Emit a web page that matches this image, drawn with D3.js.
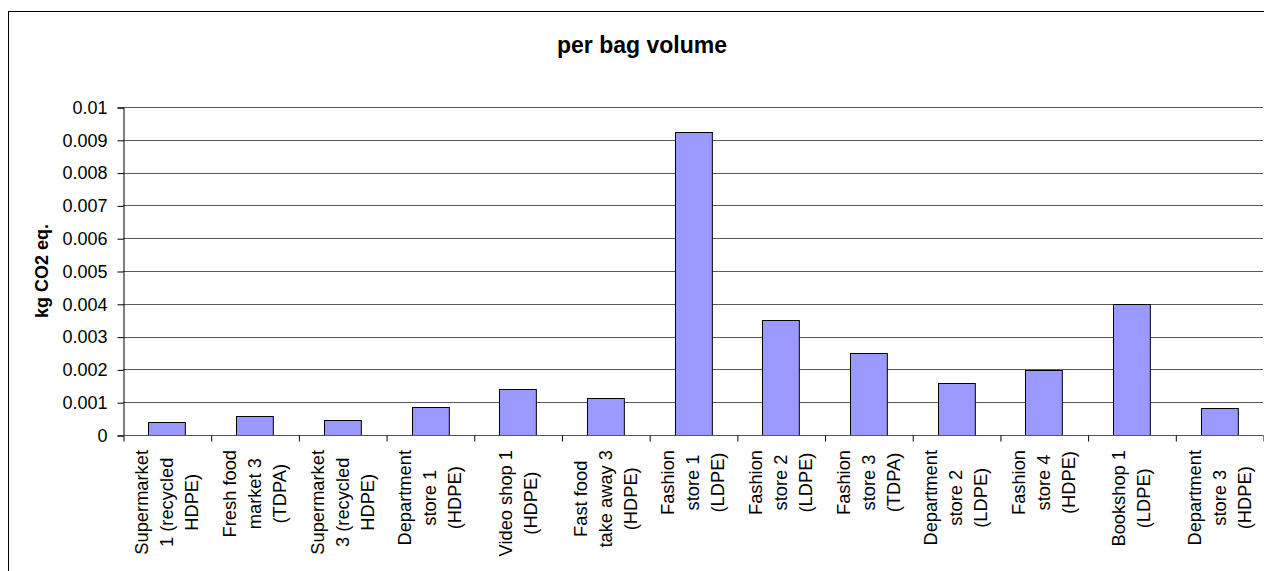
<!DOCTYPE html>
<html>
<head>
<meta charset="utf-8">
<script src="https://cdn.jsdelivr.net/npm/d3@7"></script>
<style>
  html, body { margin: 0; padding: 0; background: #fff; }
  svg { display: block; font-family: "Liberation Sans", Arial, sans-serif; }
</style>
</head>
<body>
<svg id="chart" width="1264" height="571"></svg>
<script>
// Carbon footprint per bag volume, one bar per shop/bag type
const categories = [
  "Supermarket\n1 (recycled\nHDPE)",
  "Fresh food\nmarket 3\n(TDPA)",
  "Supermarket\n3 (recycled\nHDPE)",
  "Department\nstore 1\n(HDPE)",
  "Video shop 1\n(HDPE)",
  "Fast food\ntake away 3\n(HDPE)",
  "Fashion\nstore 1\n(LDPE)",
  "Fashion\nstore 2\n(LDPE)",
  "Fashion\nstore 3\n(TDPA)",
  "Department\nstore 2\n(LDPE)",
  "Fashion\nstore 4\n(HDPE)",
  "Bookshop 1\n(LDPE)",
  "Department\nstore 3\n(HDPE)"
];
const values = [0.0004, 0.00059, 0.00046, 0.00085, 0.00139, 0.00112, 0.00925, 0.0035, 0.00251, 0.00158, 0.00197, 0.004, 0.00081];
const yTicks = [0, 0.001, 0.002, 0.003, 0.004, 0.005, 0.006, 0.007, 0.008, 0.009, 0.01];
const chartTitle = "per bag volume";
const yTitle = "kg CO2 eq.";

const svg = d3.select("#chart");
const plotLeft = 123, plotRight = 1263, plotTop = 107, plotBottom = 435;

// outer chart frame
svg.append("rect")
  .attr("x", 8.5).attr("y", 11.5)
  .attr("width", 1300).attr("height", 620)
  .attr("fill", "none").attr("stroke", "#000").attr("stroke-width", 1);

const x = d3.scaleBand()
  .domain(d3.range(categories.length))
  .range([plotLeft, plotRight])
  .paddingInner(0.58)
  .paddingOuter(0.29);

const y = d3.scaleLinear().domain([0, 0.01]).range([plotBottom, plotTop]);

// horizontal gridlines
svg.append("g")
  .selectAll("line")
  .data(yTicks.filter(d => d > 0))
  .join("line")
  .attr("x1", plotLeft).attr("x2", plotRight)
  .attr("y1", d => Math.round(y(d)) + 0.5)
  .attr("y2", d => Math.round(y(d)) + 0.5)
  .attr("stroke", "#5a5a5a").attr("stroke-width", 1);

// bars
svg.append("g")
  .selectAll("rect")
  .data(values)
  .join("rect")
  .attr("x", (d, i) => Math.round(x(i)) + 0.5)
  .attr("y", d => Math.round(y(d)) + 0.5)
  .attr("width", x.bandwidth())
  .attr("height", d => Math.round(y(0)) - Math.round(y(d)))
  .attr("fill", "#9999ff")
  .attr("stroke", "#000").attr("stroke-width", 1);

// y axis
const yAxis = d3.axisLeft(y)
  .tickValues(yTicks)
  .tickSize(6)
  .tickPadding(10)
  .tickFormat(d => d === 0 ? "0" : d3.format(".3~f")(d));
const gy = svg.append("g")
  .attr("transform", `translate(${plotLeft + 0.5},0.5)`)
  .call(yAxis);
gy.select(".domain").attr("stroke", "#000");
gy.selectAll(".tick line").attr("stroke", "#000");
gy.selectAll(".tick text")
  .attr("fill", "#000")
  .style("font-size", "18px")
  .style("font-family", "'Liberation Sans', Arial, sans-serif");

// x axis: baseline with ticks on category boundaries
const xEdges = d3.scaleLinear().domain([0, categories.length]).range([plotLeft, plotRight]);
const gx = svg.append("g")
  .attr("transform", `translate(0.5,${Math.round(plotBottom) + 0.5})`)
  .call(d3.axisBottom(xEdges).tickValues(d3.range(categories.length + 1)).tickSize(6).tickFormat(""));
gx.select(".domain").attr("stroke", "#555").attr("d", `M${plotLeft},0H${plotRight}`);
gx.selectAll(".tick line").attr("stroke", "#000");

// category labels, rotated, lines centred with one another and top-aligned below the axis
const lineGap = 25;
const labelTop = plotBottom + 15;
categories.forEach((cat, i) => {
  const lines = cat.split("\n");
  const cx = x(i) + x.bandwidth() / 2;
  const g = svg.append("g");
  const texts = lines.map(ln => g.append("text")
    .text(ln)
    .attr("text-anchor", "middle")
    .attr("dy", "0.35em")
    .attr("fill", "#000")
    .style("font-size", "18.3px"));
  const maxLen = d3.max(texts, t => t.node().getComputedTextLength());
  const cy = labelTop + maxLen / 2;
  texts.forEach((t, k) => {
    const lx = cx + (k - (lines.length - 1) / 2) * lineGap;
    t.attr("transform", `translate(${lx},${cy}) rotate(-90)`);
  });
});

// chart title
svg.append("text")
  .attr("x", 642).attr("y", 53)
  .attr("text-anchor", "middle")
  .style("font-size", "23px").style("font-weight", "bold")
  .text(chartTitle);

// y axis title
svg.append("text")
  .attr("transform", "translate(48,271) rotate(-90)")
  .attr("text-anchor", "middle")
  .style("font-size", "18px").style("font-weight", "bold")
  .text(yTitle);
</script>
</body>
</html>
